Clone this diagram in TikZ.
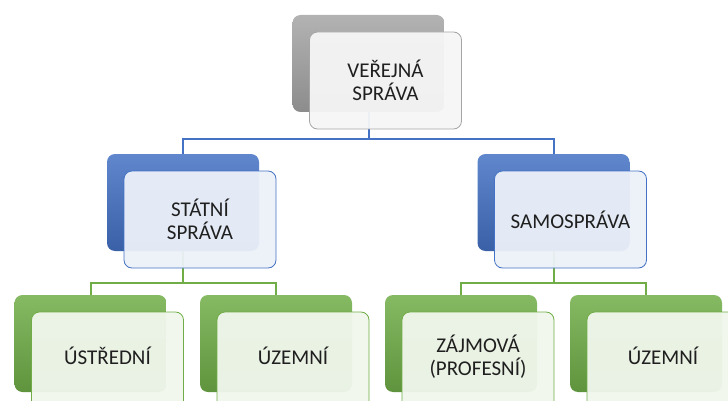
\documentclass[tikz,border=0pt]{standalone}
\usepackage{fontspec}
\setmainfont{Carlito}

\definecolor{grayback}{HTML}{A5A5A5}
\definecolor{blueback}{HTML}{4472C4}
\definecolor{greenback}{HTML}{70AD47}
\definecolor{txtgray}{HTML}{1F1F1F}

\begin{document}
\begin{tikzpicture}[x=1pt,y=-1pt,
		back/.style={rounded corners=8pt, minimum width=152pt, minimum height=97pt, inner sep=0pt},
		backshade/.style={back, top color=#1!85!white, bottom color=#1!85!black},
		front/.style={back, draw=#1, line width=0.8pt, fill=#1!10, fill opacity=0.95, text opacity=1,
			text=txtgray, font=\fontsize{21}{23}\selectfont, align=center},
		low/.style={text depth=10pt},
		link/.style={draw=#1, line width=2pt}]
	\useasboundingbox (0,0) rectangle (728,401);
	\clip (0,0) rectangle (728,401);
	
	% back shapes
	\node[backshade=grayback] (verejnaB) at (368.5,63.5) {};
	\node[backshade=blueback] (statniB) at (183,202.5) {};
	\node[backshade=blueback] (samospravaB) at (553.5,202.5) {};
	\node[backshade=greenback] (ustredniB) at (90.5,343.5) {};
	\node[backshade=greenback] (uzemniAB) at (276,343.5) {};
	\node[backshade=greenback] (zajmovaB) at (461,343.5) {};
	\node[backshade=greenback] (uzemniBB) at (646,343.5) {};
	
	% connectors
	\draw[link=blueback] (verejnaB.south) -- ++(0,27) -| (statniB.north);
	\draw[link=blueback] (verejnaB.south) -- ++(0,27) -| (samospravaB.north);
	\draw[link=greenback] (statniB.south) -- ++(0,32) -| (ustredniB.north);
	\draw[link=greenback] (statniB.south) -- ++(0,32) -| (uzemniAB.north);
	\draw[link=greenback] (samospravaB.south) -- ++(0,32) -| (zajmovaB.north);
	\draw[link=greenback] (samospravaB.south) -- ++(0,32) -| (uzemniBB.north);
	
	% front shapes
	\node[front=grayback] (verejna) at ([shift={(17,17)}]verejnaB) {VEŘEJNÁ\\SPRÁVA};
	\node[front=blueback] (statni) at ([shift={(17,17)}]statniB) {STÁTNÍ\\SPRÁVA};
	\node[front=blueback] (samosprava) at ([shift={(17,17)}]samospravaB) {SAMOSPRÁVA};
	\node[front=greenback, low] (ustredni) at ([shift={(17,17)}]ustredniB) {ÚSTŘEDNÍ};
	\node[front=greenback, low] (uzemniA) at ([shift={(17,17)}]uzemniAB) {ÚZEMNÍ};
	\node[front=greenback, low] (zajmova) at ([shift={(17,17)}]zajmovaB) {ZÁJMOVÁ\\(PROFESNÍ)};
	\node[front=greenback, low] (uzemniB) at ([shift={(17,17)}]uzemniBB) {ÚZEMNÍ};
\end{tikzpicture}
\end{document}
